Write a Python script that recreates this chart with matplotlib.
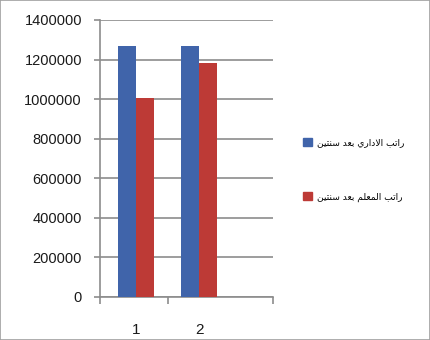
#!/usr/bin/env python3
"""Salary comparison after two years - grouped bar chart with Arabic legend."""
import matplotlib
matplotlib.use('Agg')
import matplotlib.pyplot as plt
from matplotlib.patches import Patch, Rectangle
import numpy as np

categories = ['1', '2']
admin_salary = [1268000, 1268000]
teacher_salary = [1008000, 1184000]
series_labels = ['راتب الاداري بعد سنتين', 'راتب المعلم بعد سنتين']
y_ticks = [0, 200000, 400000, 600000, 800000, 1000000, 1200000, 1400000]

C_BLUE = '#4064AA'; C_RED = '#BD3A36'; C_GRID = '#8C8C8C'

# minimal Arabic shaping (presentation forms + visual order), matplotlib has no bidi
FORMS = {
    'ا': ('\ufe8d', '\ufe8e', None, None),
    'ب': ('\ufe8f', '\ufe90', '\ufe91', '\ufe92'),
    'ت': ('\ufe95', '\ufe96', '\ufe97', '\ufe98'),
    'د': ('\ufea9', '\ufeaa', None, None),
    'ر': ('\ufead', '\ufeae', None, None),
    'س': ('\ufeb1', '\ufeb2', '\ufeb3', '\ufeb4'),
    'ع': ('\ufec9', '\ufeca', '\ufecb', '\ufecc'),
    'ل': ('\ufedd', '\ufede', '\ufedf', '\ufee0'),
    'م': ('\ufee1', '\ufee2', '\ufee3', '\ufee4'),
    'ن': ('\ufee5', '\ufee6', '\ufee7', '\ufee8'),
    'ي': ('\ufef1', '\ufef2', '\ufef3', '\ufef4'),
}
LAM_ALEF = ('\ufefb', '\ufefc')


def joins_fwd(c):
    return c in FORMS and FORMS[c][2] is not None


def shape(text):
    words = []
    for word in text.split(' '):
        chars, i = [], 0
        while i < len(word):
            if word[i] == 'ل' and i + 1 < len(word) and word[i + 1] == 'ا':
                chars.append('لا'); i += 2
            else:
                chars.append(word[i]); i += 1
        glyphs = []
        for k, c in enumerate(chars):
            prev = k > 0 and joins_fwd(chars[k - 1])
            nxt = joins_fwd(c) and k + 1 < len(chars)
            if c == 'لا':
                g = LAM_ALEF[1] if prev else LAM_ALEF[0]
            else:
                iso, fin, ini, med = FORMS[c]
                g = med if (prev and nxt) else fin if prev else ini if nxt else iso
            glyphs.append(g)
        words.append(''.join(reversed(glyphs)))
    return ' '.join(reversed(words))


plt.rcParams.update({'font.family': ['Liberation Sans', 'DejaVu Sans']})

fig = plt.figure(figsize=(4.3, 3.4), dpi=100)
ax = fig.add_axes([0.2326, 0.1265, 0.4023, 0.8147])

x = np.arange(1, len(categories) + 1)
w = 0.29
ax.bar(x - w / 2, admin_salary, w, color=C_BLUE, edgecolor='none', zorder=3)
ax.bar(x + w / 2, teacher_salary, w, color=C_RED, edgecolor='none', zorder=3)

ax.set_xlim(0.43, 3.17)
ax.set_ylim(0, 1400000)
ax.set_yticks(y_ticks)
ax.set_yticklabels([str(v) for v in y_ticks], fontsize=10.5, color='#1A1A1A')
ax.yaxis.grid(True, color=C_GRID, lw=1.2, zorder=0)
ax.set_xticks(x)
ax.set_xticklabels(categories, fontsize=11, color='#1A1A1A')
ax.tick_params(axis='x', length=0, pad=19)
ax.set_xticks([0.43, 1.5, 3.17], minor=True)
ax.tick_params(axis='x', which='minor', length=5, color=C_GRID, width=1.2)
ax.tick_params(axis='y', length=4, color=C_GRID, width=1.2, pad=9)
for s in ['top', 'right']:
    ax.spines[s].set_visible(False)
for s in ['left', 'bottom']:
    ax.spines[s].set_color(C_GRID)
    ax.spines[s].set_linewidth(1.2)

handles = [Patch(color=C_BLUE), Patch(color=C_RED)]
fig.legend(handles, [shape(t) for t in series_labels], loc='center left',
           bbox_to_anchor=(0.686, 0.5), frameon=False,
           prop={'family': ['DejaVu Sans'], 'size': 6.6},
           handlelength=0.95, handleheight=0.95, handletextpad=0.6,
           labelspacing=4.9)

fig.patches.append(Rectangle((0.001, 0.001), 0.998, 0.998, transform=fig.transFigure,
                             fill=False, edgecolor='#A0A0A0', lw=1.2))

fig.savefig('out.png', dpi=100)
print("Saved out.png")
